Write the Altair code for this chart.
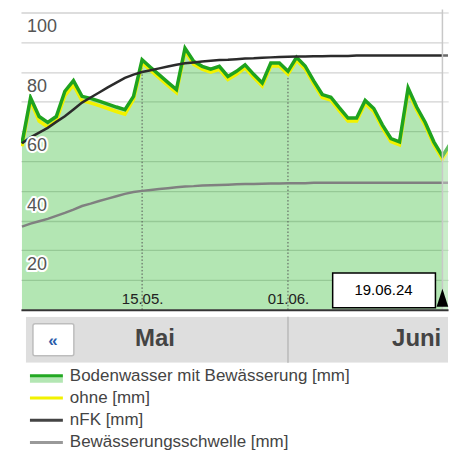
import altair as alt
import pandas as pd

F = "Liberation Sans, Arial, sans-serif"

# ---------------- data ----------------
n_days = 52
dates = pd.date_range("2024-05-01", periods=n_days, freq="D").strftime("%Y-%m-%dT00:00:00Z").tolist()

boden = [56, 71.3, 65, 63, 65, 73.5, 77.1, 71.8, 71.1, 70.2, 69.2, 68.2, 67.3, 71.8, 84.1,
         81.5, 79.0, 76.5, 74.1, 88, 83.6, 81.9, 80.9, 81.9, 78.5, 80.2, 82.4, 79.2, 76.3,
         83, 83, 80.2, 84.9, 82, 77, 72.4, 71.5, 67.9, 64.5, 64.5, 70.4, 67.7, 62.2, 57.6,
         56.5, 74.6, 68.2, 63, 56.5, 51.7, 56.3, 60]
ohne = [55, 70.3, 63.5, 61.5, 63.5, 72, 75.6, 70.3, 69.6, 68.7, 67.7, 66.7, 65.8, 70.8, 83.1,
        80.5, 78, 75.5, 73.1, 87, 82.6, 80.9, 79.9, 80.9, 77.5, 79.2, 81.4, 78.2, 75.3,
        82, 82, 79.2, 83.9, 81, 76, 71.4, 70.5, 66.9, 63.5, 63.5, 69.4, 66.7, 61.2, 56.6,
        55.5, 73.6, 67.2, 62, 55.5, 50.7, 55.3, 59]
nfk = [56, 58, 59.6, 61.2, 63.2, 65.1, 67.4, 69.7, 71.4, 73.1, 74.8, 76.4, 78, 79.1, 80,
       80.6, 81.2, 81.8, 82.4, 82.9, 83.2, 83.5, 83.8, 84, 84.1, 84.3, 84.5, 84.6, 84.8,
       84.9, 85, 85.1, 85.2, 85.2, 85.3, 85.3, 85.4, 85.4, 85.4, 85.5, 85.5, 85.5, 85.5,
       85.5, 85.5, 85.5, 85.5, 85.5, 85.5, 85.5, 85.5, 85.5]
schwelle = [28, 29, 29.8, 30.6, 31.6, 32.6, 33.7, 34.9, 35.7, 36.6, 37.4, 38.2, 39, 39.6, 40,
            40.3, 40.6, 40.9, 41.2, 41.5, 41.6, 41.8, 41.9, 42, 42.1, 42.2, 42.3, 42.3, 42.4,
            42.5, 42.5, 42.6, 42.6, 42.6, 42.7, 42.7, 42.7, 42.7, 42.7, 42.7, 42.7, 42.7, 42.7,
            42.7, 42.7, 42.7, 42.7, 42.7, 42.7, 42.7, 42.7, 42.7]

y_grid = list(range(0, 101, 10))
y_labels = [20, 40, 60, 80, 100]
y_min, y_max = 0, 101
x_ticks = ["2024-05-15T00:00:00Z", "2024-06-01T00:00:00Z"]

today = "2024-06-19T00:00:00Z"
today_label = "19.06.24"

months = ["Mai", "Juni"]
month_start = ["2024-05-01T00:00:00Z", "2024-06-01T00:00:00Z"]
month_end = ["2024-06-01T00:00:00Z", "2024-07-01T00:00:00Z"]
month_mid = ["2024-05-16T12:00:00Z", "2024-06-16T00:00:00Z"]

legend_labels = ["Bodenwasser mit Bewässerung [mm]", "ohne [mm]", "nFK [mm]",
                 "Bewässerungsschwelle [mm]"]
legend_colors = ["#22a822", "#f2f200", "#444444", "#999999"]

W = 428

# ---------------- frames ----------------
df = pd.DataFrame({"date": dates, "boden": boden, "ohne": ohne, "nfk": nfk, "schwelle": schwelle})
tick_df = df[df["date"].isin(x_ticks)].copy()
tick_df["zero"] = y_min
today_df = pd.DataFrame({"date": [today], "end": [dates[-1]], "label": [today_label],
                         "lo": [y_min], "hi": [y_max]})
ylab_df = pd.DataFrame({"v": y_labels})
nav_df = pd.DataFrame({"month": months, "start": month_start, "end": month_end, "mid": month_mid})
bg_df = pd.DataFrame({"start": [month_start[0]], "end": [month_end[-1]]})
leg_df = pd.DataFrame({"label": legend_labels, "color": legend_colors})

# ---------------- scales / axes ----------------
xdomain = [alt.DateTime(year=2024, month=4, date=30, hours=21, minutes=13, utc=True),
           alt.DateTime(year=2024, month=6, date=19, hours=15, minutes=37, utc=True)]
xscale = alt.Scale(type="utc", domain=xdomain)
x_axis = alt.Axis(
    values=[alt.DateTime(year=2024, month=5, date=15, utc=True),
            alt.DateTime(year=2024, month=6, date=1, utc=True)],
    labelExpr="utcFormat(datum.value, '%d.%m.')",
    labelPadding=-11, labelBaseline="middle", labelFontSize=15, labelColor="#222",
    labelFont=F, ticks=False, tickSize=0, grid=False, domainColor="#333", domainWidth=2,
    title=None, labelFlush=False, labelOverlap=False, zindex=1)
yscale = alt.Scale(domain=[y_min, y_max], nice=False, zero=True)
y_axis = alt.Axis(values=y_grid, labels=False, ticks=False, domain=False, grid=True,
                  gridColor="#d2d2d2", gridWidth=1.3, title=None)


def X(field):
    return alt.X(field, scale=xscale, axis=x_axis, title=None)


def Y(field):
    return alt.Y(field, scale=yscale, axis=y_axis, title=None)


base = alt.Chart(df)

area = base.mark_area(color="#28b828", opacity=0.353, clip=True).encode(x=X("date:T"), y=Y("boden:Q"))

dotted = alt.Chart(tick_df).mark_rule(color="#555", strokeDash=[1.5, 2], strokeWidth=1).encode(
    x=X("date:T"), y=Y("zero:Q"), y2="boden:Q")

line_schwelle = base.mark_line(color="#808080", strokeWidth=2.5, clip=True).encode(
    x=X("date:T"), y=Y("schwelle:Q"))
line_ohne = base.mark_line(color="#f2f200", strokeWidth=3.5, clip=True).encode(
    x=X("date:T"), y=Y("ohne:Q"))
line_boden = base.mark_line(color="#1fa31f", strokeWidth=3.5, clip=True).encode(
    x=X("date:T"), y=Y("boden:Q"))
line_nfk = base.mark_line(color="#2b2b2b", strokeWidth=2.5, clip=True).encode(
    x=X("date:T"), y=Y("nfk:Q"))

overlay = alt.Chart(today_df).mark_rect(fill="white", opacity=0.3, clip=True).encode(
    x=X("date:T"), x2="end:T", y=Y("lo:Q"), y2="hi:Q")
today_rule = alt.Chart(today_df).mark_rule(color="#c8c8c8", strokeWidth=1.5).encode(
    x=X("date:T"), y=Y("lo:Q"), y2="hi:Q")

box = alt.Chart(today_df).mark_rect(fill="white", stroke="black", strokeWidth=1.5,
                                    xOffset=-110, x2Offset=-7).encode(
    x=X("date:T"), x2="date:T", y=alt.value(264), y2=alt.value(299))
box_text = alt.Chart(today_df).mark_text(dx=-59, fontSize=15, font=F, color="black",
                                         baseline="middle").encode(
    x=X("date:T"), y=alt.value(281), text="label:N")
tri = alt.Chart(today_df).mark_point(shape="M0,-1L0.65,1L-0.65,1Z", size=324, filled=True,
                                     color="black", opacity=1).encode(
    x=X("date:T"), y=alt.value(289))

ylab_halo = alt.Chart(ylab_df).mark_text(align="left", baseline="middle", dy=15, fontSize=18,
                                         font=F, fill="white", stroke="white", strokeWidth=4,
                                         strokeJoin="round").encode(
    x=alt.value(6), y=Y("v:Q"), text="v:Q")
ylab = alt.Chart(ylab_df).mark_text(align="left", baseline="middle", dy=15, fontSize=18,
                                    font=F, color="#555").encode(
    x=alt.value(6), y=Y("v:Q"), text="v:Q")

main = alt.layer(area, dotted, line_schwelle, line_ohne, line_boden, line_nfk, overlay,
                 today_rule, box, box_text, tri, ylab_halo, ylab).properties(width=W, height=301)

# ---------------- month navigation ----------------
nx = alt.Scale(type="utc", domain=xdomain)
nav_bg = alt.Chart(bg_df).mark_rect(fill="#dedede", xOffset=4, clip=True).encode(
    x=alt.X("start:T", scale=nx, axis=None), x2="end:T", y=alt.value(0), y2=alt.value(46))
nav_div = alt.Chart(nav_df.iloc[1:]).mark_rule(color="#c2c2c2", strokeWidth=2).encode(
    x=alt.X("start:T", scale=nx, axis=None), y=alt.value(0), y2=alt.value(46))
nav_btn = alt.Chart(nav_df.iloc[:1]).mark_rect(fill="white", stroke="#bdbdbd", strokeWidth=1.5,
                                               cornerRadius=2).encode(
    x=alt.value(12), x2=alt.value(53), y=alt.value(7), y2=alt.value(39))
nav_btn_txt = alt.Chart(nav_df.iloc[:1]).mark_text(fontSize=17, fontWeight="bold",
                                                   color="#2a5caa", font=F,
                                                   baseline="middle").encode(
    x=alt.value(32), y=alt.value(24), text=alt.value("«"))
nav_txt = alt.Chart(nav_df).mark_text(fontSize=24, fontWeight="bold", color="#444", font=F,
                                      baseline="middle").encode(
    x=alt.X("mid:T", scale=nx, axis=None), y=alt.value(22), text="month:N")
nav = alt.layer(nav_bg, nav_div, nav_btn, nav_btn_txt, nav_txt).properties(width=W, height=46)

# ---------------- legend ----------------
ly = alt.Y("label:N", sort=legend_labels, axis=None,
           scale=alt.Scale(type="point", padding=0.5, domain=legend_labels))
leg_band = alt.Chart(leg_df.iloc[:1]).mark_rule(strokeWidth=6, color="#b3e6b3", yOffset=4).encode(
    x=alt.value(9), x2=alt.value(42), y=ly)
leg_rule = alt.Chart(leg_df).mark_rule(strokeWidth=3).encode(
    x=alt.value(9), x2=alt.value(42), y=ly, color=alt.Color("color:N", scale=None))
leg_txt = alt.Chart(leg_df).mark_text(align="left", baseline="middle", fontSize=17, color="#444",
                                      font=F).encode(
    x=alt.value(49), y=ly, text="label:N")
legend = alt.layer(leg_band, leg_rule, leg_txt).properties(width=W, height=89)

chart = alt.vconcat(main, alt.vconcat(nav, legend, spacing=1), spacing=5).properties(
    padding={"left": 13, "top": 0, "right": 0, "bottom": 0}
).configure_view(stroke=None)

chart.save("out.html", embed_options={"renderer": "svg", "actions": False})
